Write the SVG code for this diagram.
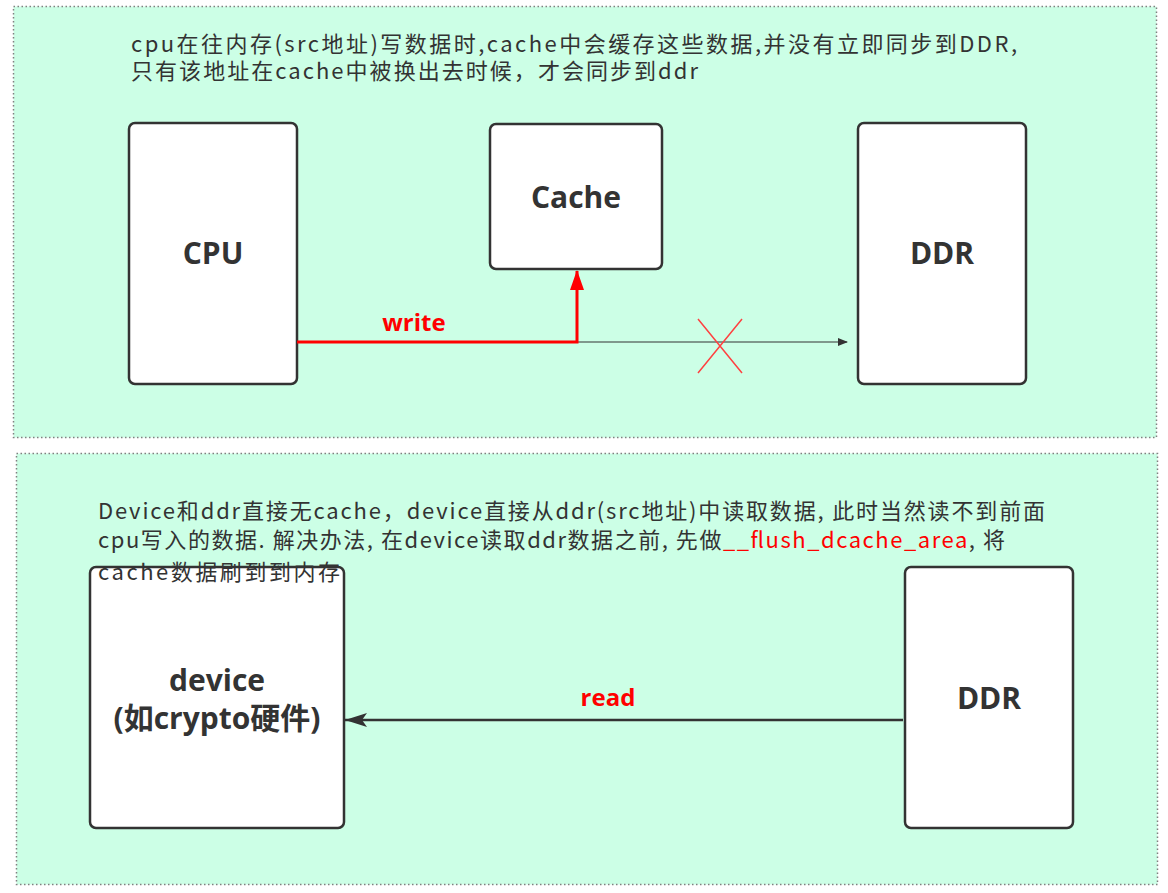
<svg xmlns="http://www.w3.org/2000/svg" width="1168" height="893" viewBox="0 0 1168 893">
<style>
.panel{fill:#ccffe6;stroke:#808080;stroke-width:1.5;stroke-dasharray:1.5 2.5}
.box{fill:#fff;stroke:#333;stroke-width:2.5}
.lbl{font-family:"Open Sans","Noto Sans CJK SC",sans-serif;font-weight:bold;fill:#333;text-anchor:middle}
.note{font-family:"Noto Sans CJK SC",sans-serif;font-size:22px;fill:#333}
.red{fill:#ff0000}
.elab{font-family:"Open Sans","Noto Sans",sans-serif;font-weight:bold;font-size:24px;fill:#ff0000;text-anchor:middle}
</style>
<defs>
<marker id="ab" markerWidth="10" markerHeight="8" refX="9" refY="4" orient="auto" markerUnits="userSpaceOnUse"><path d="M0,0 L10,4 L0,8 Z" fill="#333"/></marker>
<marker id="abl" markerWidth="24" markerHeight="14" refX="22" refY="7" orient="auto" markerUnits="userSpaceOnUse"><path d="M0,0 L22,7 L0,14 L5,7 Z" fill="#333"/></marker>
<marker id="ar" markerWidth="20" markerHeight="14" refX="19" refY="7" orient="auto" markerUnits="userSpaceOnUse"><path d="M0,0 L20,7 L0,14 Z" fill="#ff0000"/></marker>
</defs>
<rect class="panel" x="13.5" y="6.5" width="1143" height="431"/>
<rect class="panel" x="16.5" y="453.5" width="1141" height="431"/>
<g id="note1">
<text class="note" x="131" y="52" textLength="886" lengthAdjust="spacing">cpu在往内存(src地址)写数据时,cache中会缓存这些数据,并没有立即同步到DDR,</text>
<text class="note" x="131" y="79" textLength="567" lengthAdjust="spacing">只有该地址在cache中被换出去时候，才会同步到ddr</text>
</g>
<g id="cpu"><rect class="box" x="129" y="123" width="168" height="261" rx="6"/><text class="lbl" x="213" y="264" font-size="30">CPU</text></g>
<g id="cache"><rect class="box" x="490" y="124" width="172" height="145" rx="6"/><text class="lbl" x="576" y="208" font-size="30">Cache</text></g>
<g id="ddr1"><rect class="box" x="858" y="123" width="168" height="261" rx="6"/><text class="lbl" x="942" y="264" font-size="30">DDR</text></g>
<g id="note2">
<text class="note" x="98" y="519" textLength="947" lengthAdjust="spacing">Device和ddr直接无cache，device直接从ddr(src地址)中读取数据, 此时当然读不到前面</text>
<text class="note" x="98" y="548" textLength="907" lengthAdjust="spacing">cpu写入的数据. 解决办法, 在device读取ddr数据之前, 先做<tspan class="red">__flush_dcache_area</tspan>, 将</text>
</g>
<g id="device"><rect class="box" x="90" y="567" width="254" height="261" rx="6"/><text class="lbl" x="217" y="691" font-size="30">device</text><text class="lbl" x="217" y="729" font-size="30">(如crypto硬件)</text></g>
<text class="note" x="98" y="580" textLength="242" lengthAdjust="spacing">cache数据刷到到内存</text>
<g id="ddr2"><rect class="box" x="905" y="567" width="168" height="261" rx="6"/><text class="lbl" x="989" y="709" font-size="30">DDR</text></g>
<g id="connectors">
<line x1="577" y1="342" x2="847" y2="342" stroke="#333" stroke-width="1.2" marker-end="url(#ab)"/>
<path d="M297,342 H577 V271" fill="none" stroke="#ff0000" stroke-width="3" marker-end="url(#ar)"/>
<path d="M698,319 L742,373 M742,319 L698,373" stroke="#ff4040" stroke-width="1.5"/>
<text class="elab" x="414" y="331">write</text>
<line x1="903" y1="720" x2="345" y2="720" stroke="#333" stroke-width="2.5" marker-end="url(#abl)"/>
<text class="elab" x="608" y="706">read</text>
</g>
</svg>
